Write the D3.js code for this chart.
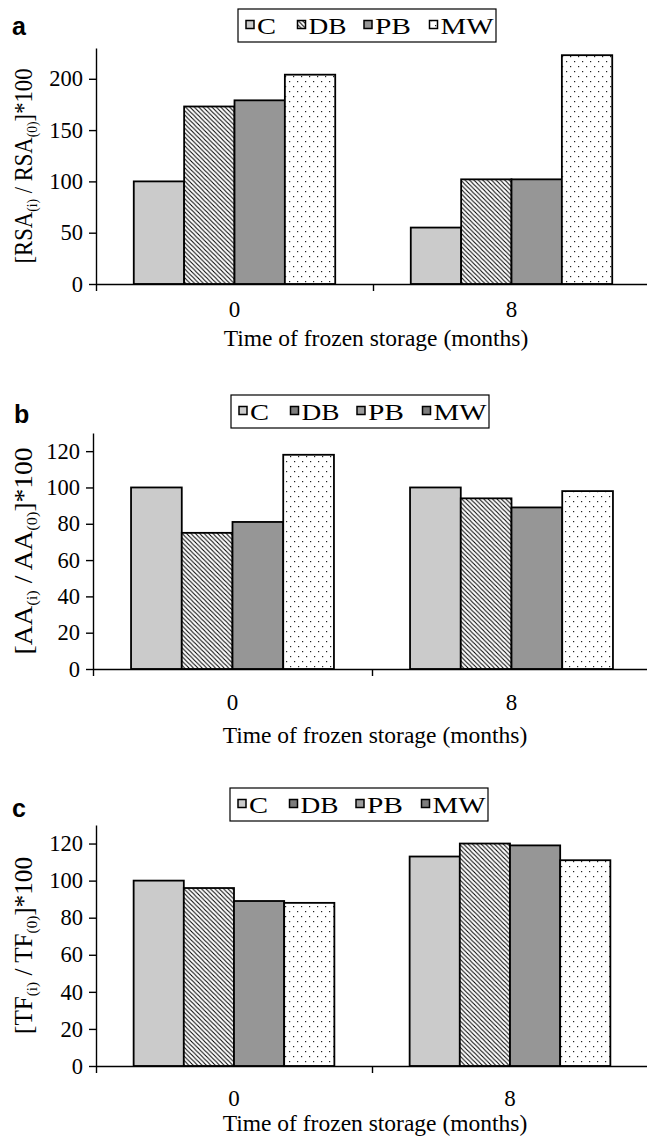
<!DOCTYPE html>
<html>
<head>
<meta charset="utf-8">
<script src="https://cdn.jsdelivr.net/npm/d3@7"></script>
<style>
  body { margin: 0; background: #fff; }
  svg text { font-family: "Liberation Serif", "Times New Roman", serif; fill: #000; }
</style>
</head>
<body>
<script>
// data
const months = ["0", "8"];
const treatments = ["C", "DB", "PB", "MW"];
const rsaValues = [[100, 173, 179, 204], [55, 102, 102, 223]];
const aaValues = [[100, 75, 81, 118], [100, 94, 89, 98]];
const tfValues = [[100, 96, 89, 88], [113, 120, 119, 111]];
const rsaTicks = [0, 50, 100, 150, 200];
const pctTicks = [0, 20, 40, 60, 80, 100, 120];

let w = 647;
let h = 1138;

// layout of the three panels (pixels)
let panels = [
  { letter: "a", letterX: 12, letterY: 35, values: rsaValues, ticks: rsaTicks, yMax: 230, quantity: "RSA",
    x0: 96, x1: 650, top: 48, zero: 284, legendX: 238, legendY: 9, solidLegend: false,
    catDy: 34, titleDy: 62, yTitleLen: 195 },
  { letter: "b", letterX: 14, letterY: 423, values: aaValues, ticks: pctTicks, yMax: 130, quantity: "AA",
    x0: 93, x1: 651, top: 433, zero: 669, legendX: 231, legendY: 395, solidLegend: true,
    catDy: 42, titleDy: 74, yTitleLen: 207 },
  { letter: "c", letterX: 12, letterY: 817, values: tfValues, ticks: pctTicks, yMax: 130, quantity: "TF",
    x0: 96, x1: 648, top: 825, zero: 1066, legendX: 230, legendY: 788, solidLegend: true,
    catDy: 41, titleDy: 65, yTitleLen: 177 }
];

let barFills = ["#cbcbcb", "url(#hatch)", "#969696", "url(#dots)"];
let solidLegendFills = ["#cbcbcb", "#7c7c7c", "#9c9c9c", "#7c7c7c"];
let legendOffsets = [8, 59.5, 126, 191.5];
let legendTextWidths = [19, 38, 36, 53];

let svg = d3.select("body").append("svg").attr("width", w).attr("height", h);

// fill patterns
let defs = svg.append("defs");
let hatch = defs.append("pattern")
  .attr("id", "hatch")
  .attr("patternUnits", "userSpaceOnUse")
  .attr("width", 4.4).attr("height", 4.4);
hatch.append("rect").attr("width", 4.4).attr("height", 4.4).attr("fill", "#fff");
hatch.append("path")
  .attr("d", "M-1,-1 L5.4,5.4 M-1,3.4 L1,5.4 M3.4,-1 L5.4,1")
  .attr("stroke", "#000").attr("stroke-width", 1.05);

let dots = defs.append("pattern")
  .attr("id", "dots")
  .attr("patternUnits", "userSpaceOnUse")
  .attr("width", 8).attr("height", 10);
dots.append("rect").attr("width", 8).attr("height", 10).attr("fill", "#fff");
dots.append("rect").attr("x", 1).attr("y", 1).attr("width", 1.2).attr("height", 1.2).attr("fill", "#222");
dots.append("rect").attr("x", 5).attr("y", 6).attr("width", 1.2).attr("height", 1.2).attr("fill", "#222");

panels.forEach(function(p) { drawPanel(p); });

function drawPanel(p) {
  let g = svg.append("g");

  let xBand = d3.scaleBand().domain(months).range([p.x0, p.x1]);
  let xSub = d3.scaleBand().domain(treatments)
    .range([0, xBand.bandwidth()])
    .paddingInner(0).paddingOuter(0.75);
  let yScale = d3.scaleLinear().domain([0, p.yMax]).range([p.zero, p.top]);

  // bars
  let groups = g.selectAll("g.group")
    .data(months)
    .enter()
    .append("g")
    .attr("class", "group")
    .attr("transform", function(d) { return "translate(" + xBand(d) + ",0)"; });

  groups.selectAll("rect")
    .data(function(d, i) {
      return treatments.map(function(t, j) { return { t: t, v: p.values[i][j], j: j }; });
    })
    .enter()
    .append("rect")
    .attr("x", function(d) { return xSub(d.t); })
    .attr("width", xSub.bandwidth())
    .attr("y", function(d) { return yScale(d.v); })
    .attr("height", function(d) { return yScale(0) - yScale(d.v); })
    .attr("fill", function(d) { return barFills[d.j]; })
    .attr("stroke", "#000")
    .attr("stroke-width", 1.8);

  // y axis
  let yAxis = d3.axisLeft(yScale)
    .tickValues(p.ticks)
    .tickSizeInner(7)
    .tickSizeOuter(0)
    .tickPadding(6);
  let ya = g.append("g")
    .attr("transform", "translate(" + p.x0 + ",0)")
    .call(yAxis);
  ya.selectAll("text").style("font-size", "22.5px").style("font-family", "Liberation Serif");
  ya.selectAll("line, path").attr("stroke", "#000").attr("stroke-width", 1.4);

  // x axis: line with ticks at the category boundaries
  let edges = d3.scaleLinear().domain([0, months.length]).range([p.x0, p.x1]);
  let xa = g.append("g")
    .attr("transform", "translate(0," + p.zero + ")")
    .call(d3.axisBottom(edges).tickValues([0, 1, 2]).tickFormat("").tickSizeInner(7).tickSizeOuter(0));
  xa.selectAll("line, path").attr("stroke", "#000").attr("stroke-width", 1.4);

  // category labels
  let xl = g.append("g")
    .attr("transform", "translate(0," + p.zero + ")")
    .call(d3.axisBottom(xBand).tickSize(0).tickPadding(p.catDy - 17));
  xl.select(".domain").remove();
  xl.selectAll("text").style("font-size", "23px").style("font-family", "Liberation Serif");

  // x title
  g.append("text")
    .attr("x", (p.x0 + p.x1) / 2 + 3)
    .attr("y", p.zero + p.titleDy)
    .style("text-anchor", "middle")
    .style("font-size", "23.5px")
    .text("Time of frozen storage (months)");

  // y title
  let yt = g.append("text")
    .attr("transform", "translate(32," + (p.top + p.zero) / 2 + ") rotate(-90)")
    .style("text-anchor", "middle")
    .style("font-size", "25px")
    .attr("textLength", p.yTitleLen)
    .attr("lengthAdjust", "spacingAndGlyphs");
  yt.append("tspan").text("[" + p.quantity);
  yt.append("tspan").attr("dy", 5).style("font-size", "15px").text("(i)");
  yt.append("tspan").attr("dy", -5).text(" / " + p.quantity);
  yt.append("tspan").attr("dy", 5).style("font-size", "15px").text("(0)");
  yt.append("tspan").attr("dy", -5).text("]*100");

  // panel letter
  g.append("text")
    .attr("x", p.letterX)
    .attr("y", p.letterY)
    .style("font-family", "Liberation Sans, Arial, sans-serif")
    .style("font-weight", "bold")
    .style("font-size", "25px")
    .text(p.letter);

  // legend
  let lg = g.append("g").attr("transform", "translate(" + p.legendX + "," + p.legendY + ")");
  lg.append("rect")
    .attr("width", 258).attr("height", 33)
    .attr("fill", "#fff").attr("stroke", "#000").attr("stroke-width", 1.2);
  treatments.forEach(function(t, i) {
    lg.append("rect")
      .attr("x", legendOffsets[i]).attr("y", 11.5)
      .attr("width", 8).attr("height", 8)
      .attr("fill", p.solidLegend ? solidLegendFills[i] : barFills[i])
      .attr("stroke", "#000").attr("stroke-width", 1.5);
    lg.append("text")
      .attr("x", legendOffsets[i] + 11)
      .attr("y", 24.5)
      .style("font-size", "24px")
      .attr("textLength", legendTextWidths[i])
      .attr("lengthAdjust", "spacingAndGlyphs")
      .text(t);
  });
}
</script>
</body>
</html>
